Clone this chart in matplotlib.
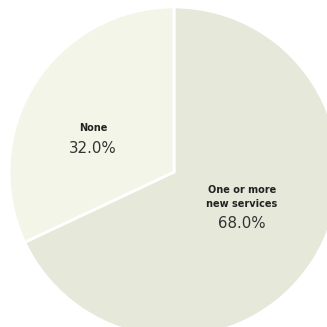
import matplotlib.pyplot as plt

labels = ["One or more\nnew services", "None"]
values = [68.0, 32.0]
colors = ["#e6e8da", "#f3f5e8"]

fig = plt.figure(figsize=(3.27, 3.27), dpi=100)
ax = fig.add_axes([0, 0, 1, 1])

# pie in pixel coords, centre a bit right/below so it gets cut off
cx, cy, r = 174, 155, 165
wedges, _ = ax.pie(values, colors=colors, startangle=90, counterclock=False,
                   center=(cx, cy), radius=r, frame=True,
                   wedgeprops=dict(edgecolor="white", linewidth=2))
ax.set_xlim(0, 327)
ax.set_ylim(0, 327)
ax.set_aspect("equal")
ax.axis("off")

# label baselines, offsets from centre (pixels)
label_x = [68, -81]
label_y = [-21, 41]
pct_y = [-56, 19]
for lab, val, dx, ly, py in zip(labels, values, label_x, label_y, pct_y):
    for k, line in enumerate(lab.split("\n")):
        ax.text(cx + dx, cy + ly - 14 * k, line, ha="center", va="baseline",
                fontsize=7, fontweight="bold", color="#222222")
    ax.text(cx + dx, cy + py, "%.1f%%" % val, ha="center", va="baseline",
            fontsize=10.8, color="#333333")

fig.savefig("out.png", dpi=100)
